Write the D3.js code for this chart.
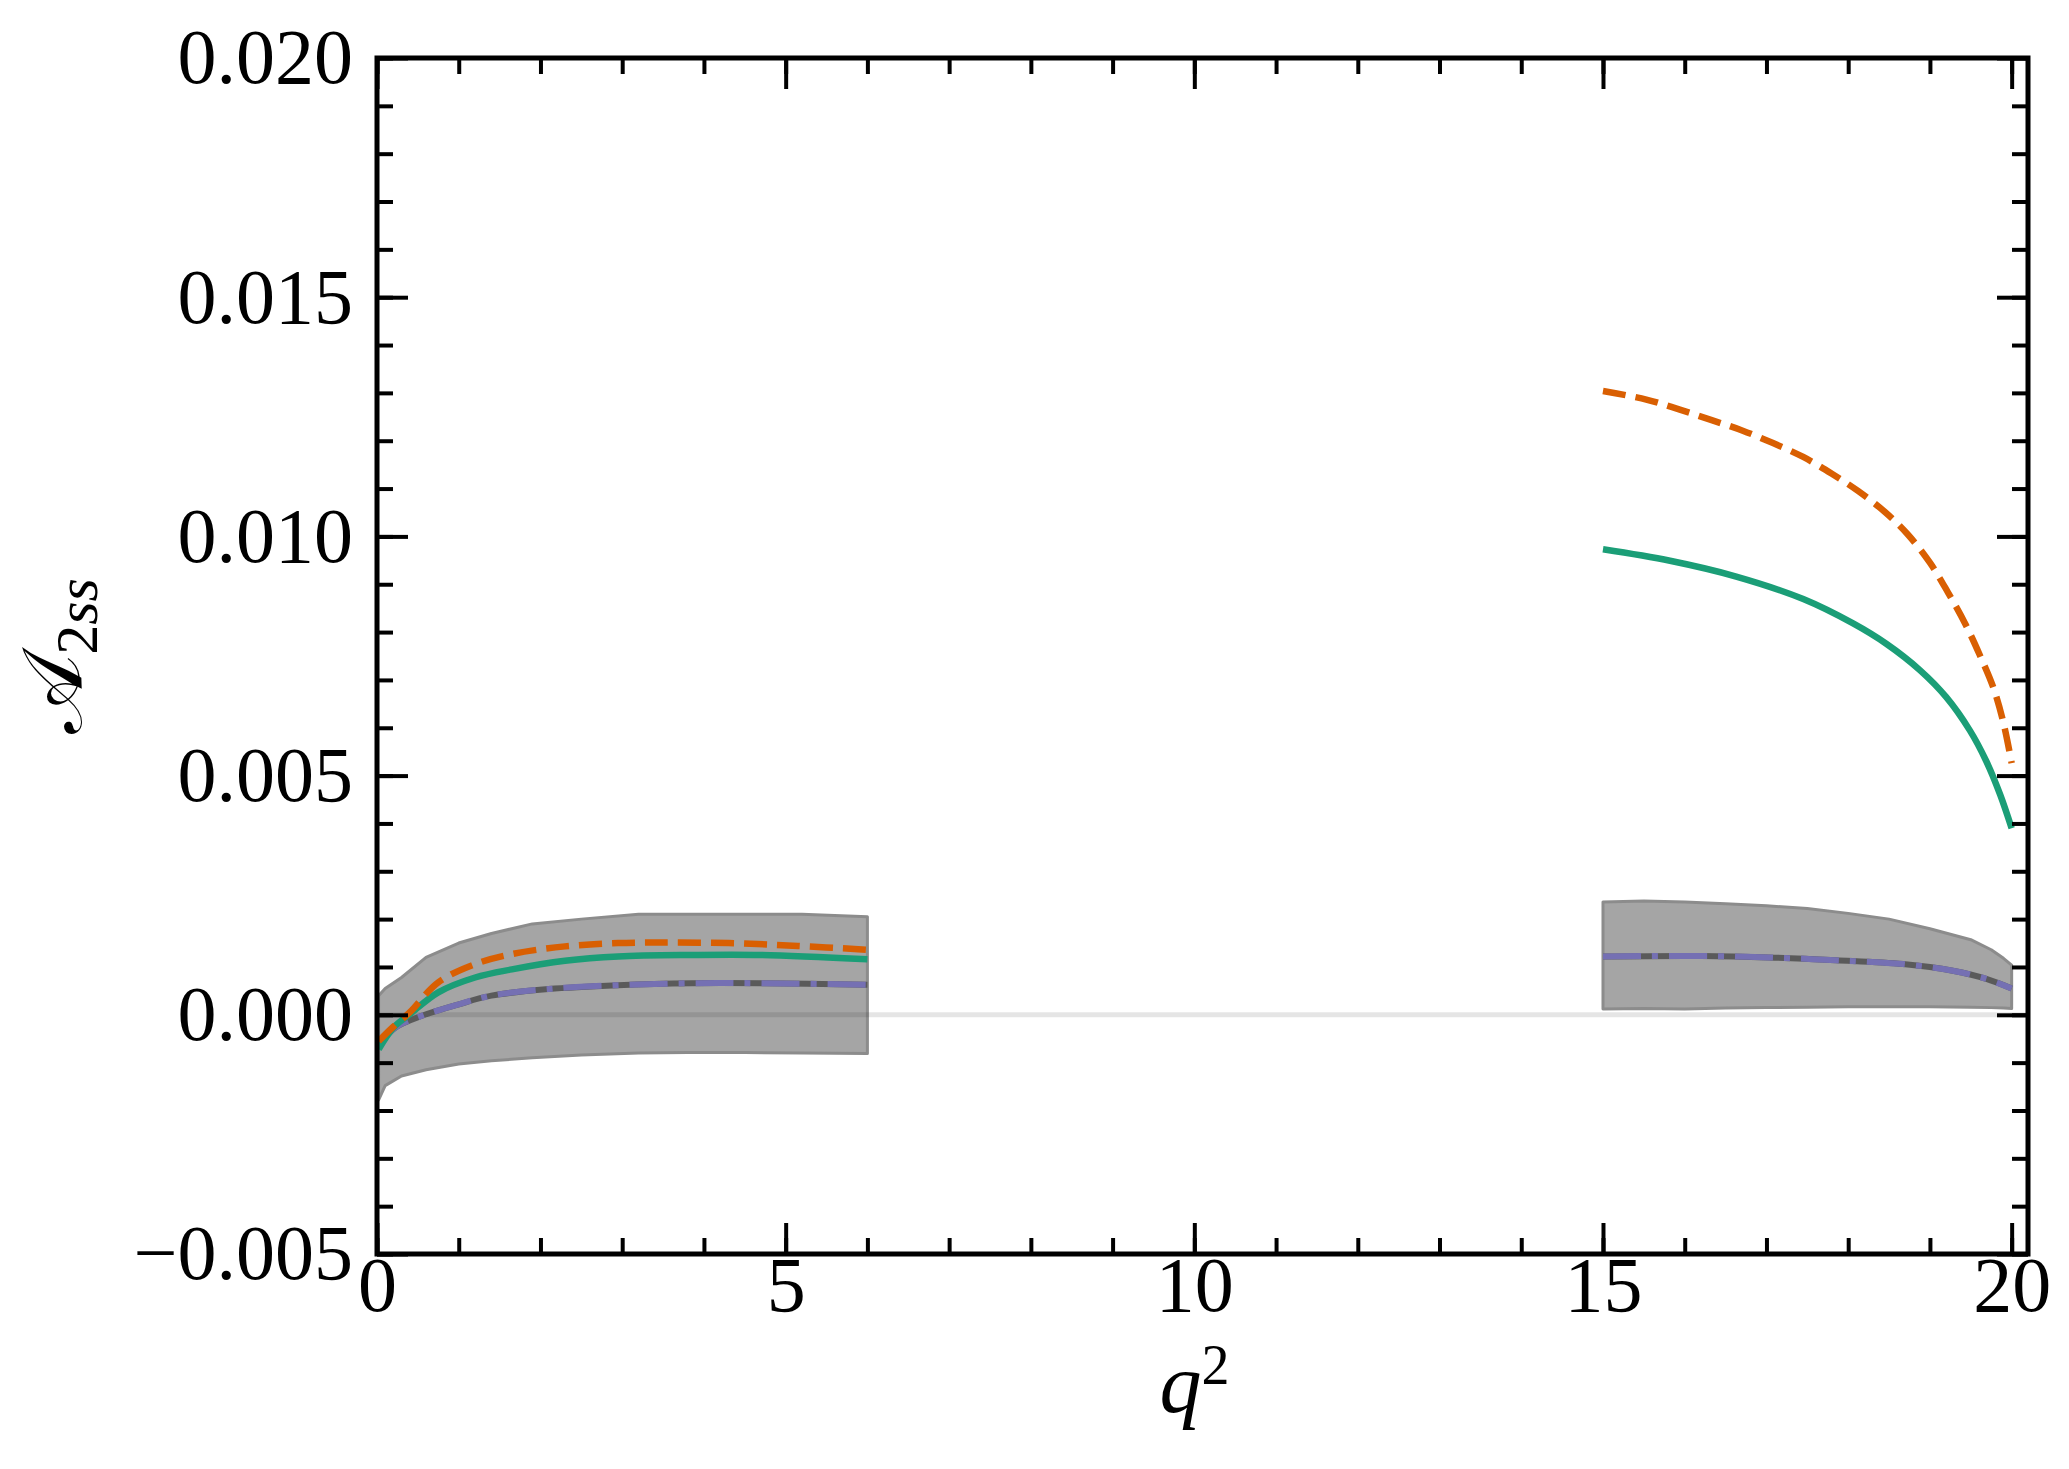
<!DOCTYPE html>
<html>
<head>
<meta charset="utf-8">
<script src="https://cdn.jsdelivr.net/npm/d3@7"></script>
<style>
  body { margin: 0; background: #fff; }
  .tick text { font-family: "Liberation Serif", serif; font-size: 78px; fill: #000; }
</style>
</head>
<body>
<div id="chart"></div>
<script>
// ---- data ----
// grey band (low q² region and high q² region)
const bandQ1 = [0.02, 0.1, 0.3, 0.6, 1.0, 1.4, 1.9, 2.5, 3.2, 3.8, 4.5, 5.2, 6.0];
const bandUp1 = [0.0004, 0.00055, 0.00078, 0.0012, 0.0015, 0.0017, 0.0019, 0.002, 0.0021, 0.0021, 0.0021, 0.0021, 0.00205];
const bandLo1 = [-0.00178, -0.00148, -0.00128, -0.00115, -0.00103, -0.00096, -0.0009, -0.00084, -0.0008, -0.00079, -0.00079, -0.0008, -0.00081];

const bandQ2 = [15, 15.5, 16, 16.5, 17, 17.5, 18, 18.5, 19, 19.5, 19.75, 19.9, 20];
const bandUp2 = [0.00236, 0.00238, 0.00236, 0.00232, 0.00228, 0.00222, 0.00212, 0.002, 0.0018, 0.00157, 0.00136, 0.00118, 0.00104];
const bandLo2 = [0.00012, 0.00013, 0.00012, 0.00014, 0.00015, 0.00016, 0.00017, 0.00017, 0.00017, 0.00016, 0.00015, 0.00014, 0.00013];

// orange dashed
const orangeQ1 = [0.02, 0.2, 0.4, 0.75, 1.2, 1.65, 2.3, 2.95, 3.4, 4.3, 5.15, 6.0];
const orange1 = [-0.00055, -0.00025, 0.00005, 0.00068, 0.00106, 0.00127, 0.00143, 0.0015, 0.00151, 0.0015, 0.00144, 0.00136];
const orangeQ2 = [15, 15.53, 15.94, 16.33, 16.71, 17.08, 17.45, 17.8, 18.12, 18.45, 18.73, 19.0, 19.22, 19.43, 19.61, 19.78, 19.9, 20.0];
const orange2 = [0.01304, 0.01286, 0.01265, 0.01243, 0.01221, 0.01195, 0.01166, 0.01131, 0.01095, 0.01051, 0.01004, 0.00945, 0.00883, 0.00818, 0.00752, 0.00682, 0.0061, 0.00526];

// green solid
const greenQ1 = [0.02, 0.2, 0.4, 0.75, 1.2, 1.65, 2.3, 2.95, 3.85, 4.7, 6.0];
const green1 = [-0.00072, -0.00027, 0.00001, 0.00047, 0.00078, 0.00095, 0.00113, 0.00122, 0.00125, 0.00125, 0.00116];
const greenQ2 = [15, 15.82, 16.63, 17.45, 18.06, 18.47, 18.88, 19.2, 19.49, 19.69, 19.86, 20.0];
const green2 = [0.00973, 0.00949, 0.00916, 0.00869, 0.00818, 0.00775, 0.0072, 0.00664, 0.00594, 0.0053, 0.0046, 0.0039];

// purple dash-dot (drawn over the grey central line, same values)
const purpleQ1 = [0.02, 0.23, 0.55, 1.0, 1.4, 2.1, 2.95, 3.85, 4.7, 6.0];
const purple1 = [-0.00062, -0.00026, -0.00002, 0.00022, 0.0004, 0.00054, 0.00062, 0.00066, 0.00066, 0.00063];
const purpleQ2 = [15, 16.2, 17.03, 17.85, 18.67, 19.28, 19.69, 20.0];
const purple2 = [0.00122, 0.00123, 0.0012, 0.00114, 0.00106, 0.00092, 0.00075, 0.00055];

// ticks
const xMajor = [0, 5, 10, 15, 20];
const xMinor = d3.range(0, 21, 1);
const yMajor = [-0.005, 0, 0.005, 0.01, 0.015, 0.02];
const yMinor = d3.range(-5, 21, 1).map(d => d / 1000);
const yLabels = ["\u22120.005", "0.000", "0.005", "0.010", "0.015", "0.020"];

const drawChart = () => {
    const W = 2069, H = 1469;
    const margin = { top: 58, right: 41, bottom: 215, left: 377 };
    const width = W - margin.left - margin.right;
    const height = H - margin.top - margin.bottom;

    const x = d3.scaleLinear().domain([0, 20.2]).range([0, width]);
    const y = d3.scaleLinear().domain([-0.005, 0.02]).range([height, 0]);

    const root = d3.select("#chart")
        .append("svg")
        .attr("width", W)
        .attr("height", H)
        .style("background", "#fff");

    const svg = root.append("g")
        .attr("transform", `translate(${margin.left},${margin.top})`);

    svg.append("clipPath").attr("id", "clip")
        .append("rect").attr("width", width).attr("height", height);

    const plot = svg.append("g").attr("clip-path", "url(#clip)");

    // grey bands
    const area = d3.area()
        .x(d => x(d[0]))
        .y0(d => y(d[1]))
        .y1(d => y(d[2]));

    [[bandQ1, bandLo1, bandUp1], [bandQ2, bandLo2, bandUp2]].forEach(([q, lo, up]) => {
        plot.append("path")
            .datum(d3.zip(q, lo, up))
            .attr("fill", "#a5a5a5")
            .attr("stroke", "#8c8c8c")
            .attr("stroke-width", 3)
            .attr("stroke-linejoin", "round")
            .attr("d", area);
    });

    // zero line
    plot.append("line")
        .attr("x1", x(0)).attr("x2", x(20.2))
        .attr("y1", y(0)).attr("y2", y(0))
        .attr("stroke", "#000")
        .attr("stroke-opacity", 0.1)
        .attr("stroke-width", 5);

    const line = d3.line()
        .x(d => x(d[0]))
        .y(d => y(d[1]))
        .curve(d3.curveCatmullRom.alpha(0.5));

    const addLine = (q, v, color, dash, w) => {
        plot.append("path")
            .datum(d3.zip(q, v))
            .attr("fill", "none")
            .attr("stroke", color)
            .attr("stroke-width", w)
            .attr("stroke-dasharray", dash)
            .attr("d", line);
    };

    // grey central line under the purple dash-dot
    addLine(purpleQ1, purple1, "#5a5a5a", null, 6);
    addLine(purpleQ2, purple2, "#5a5a5a", null, 6);
    addLine(purpleQ1, purple1, "#7570b3", "38,11,6,11", 6);
    addLine(purpleQ2, purple2, "#7570b3", "38,11,6,11", 6);
    addLine(greenQ1, green1, "#1b9e77", null, 6.5);
    addLine(greenQ2, green2, "#1b9e77", null, 6.5);
    addLine(orangeQ1, orange1, "#d95f02", "23,10", 6.5);
    addLine(orangeQ2, orange2, "#d95f02", "23,10", 6.5);

    // axes: inward ticks on all four sides
    const styleTicks = (g, w) => {
        g.select(".domain").remove();
        g.selectAll(".tick line").attr("stroke", "#000").attr("stroke-width", w);
    };

    svg.append("g").attr("transform", `translate(0,${height})`)
        .call(d3.axisBottom(x).tickValues(xMinor).tickSize(-16).tickFormat(""))
        .call(g => styleTicks(g, 4));
    svg.append("g")
        .call(d3.axisTop(x).tickValues(xMinor).tickSize(-16).tickFormat(""))
        .call(g => styleTicks(g, 4));
    svg.append("g")
        .call(d3.axisLeft(y).tickValues(yMinor).tickSize(-16).tickFormat(""))
        .call(g => styleTicks(g, 4));
    svg.append("g").attr("transform", `translate(${width},0)`)
        .call(d3.axisRight(y).tickValues(yMinor).tickSize(-16).tickFormat(""))
        .call(g => styleTicks(g, 4));

    svg.append("g").attr("transform", `translate(0,${height})`)
        .call(d3.axisBottom(x).tickValues(xMajor).tickSize(-31).tickPadding(2).tickFormat(d3.format("d")))
        .call(g => styleTicks(g, 4));
    svg.append("g")
        .call(d3.axisTop(x).tickValues(xMajor).tickSize(-31).tickFormat(""))
        .call(g => styleTicks(g, 4));
    svg.append("g")
        .call(d3.axisLeft(y).tickValues(yMajor).tickSize(-31).tickPadding(24)
            .tickFormat((d, i) => yLabels[i]))
        .call(g => styleTicks(g, 4));
    svg.append("g").attr("transform", `translate(${width},0)`)
        .call(d3.axisRight(y).tickValues(yMajor).tickSize(-31).tickFormat(""))
        .call(g => styleTicks(g, 4));

    // frame
    svg.append("rect")
        .attr("width", width).attr("height", height)
        .attr("fill", "none")
        .attr("stroke", "#000")
        .attr("stroke-width", 5);

    // axis titles
    const xt = svg.append("text")
        .attr("x", width / 2 - 8)
        .attr("y", 1412 - margin.top)
        .attr("text-anchor", "middle")
        .attr("font-family", "Liberation Serif, serif")
        .attr("font-size", 84);
    xt.append("tspan").attr("font-style", "italic").text("q");
    xt.append("tspan").attr("font-size", 56).attr("dy", -28).text("2");

    const yt = svg.append("text")
        .attr("transform", `translate(${52 - margin.left},${height / 2}) rotate(-90)`)
        .attr("text-anchor", "middle")
        .attr("dy", "0.35em")
        .attr("font-family", "Liberation Serif, serif")
        .attr("font-size", 84);
    yt.append("tspan").attr("font-family", "DejaVu Serif, DejaVu Sans, serif").text("\u{1D49C}");
    yt.append("tspan").attr("font-size", 60).attr("dy", 16).text("2");
    yt.append("tspan").attr("font-size", 60).attr("font-style", "italic").text("ss");
};

drawChart();
</script>
</body>
</html>
